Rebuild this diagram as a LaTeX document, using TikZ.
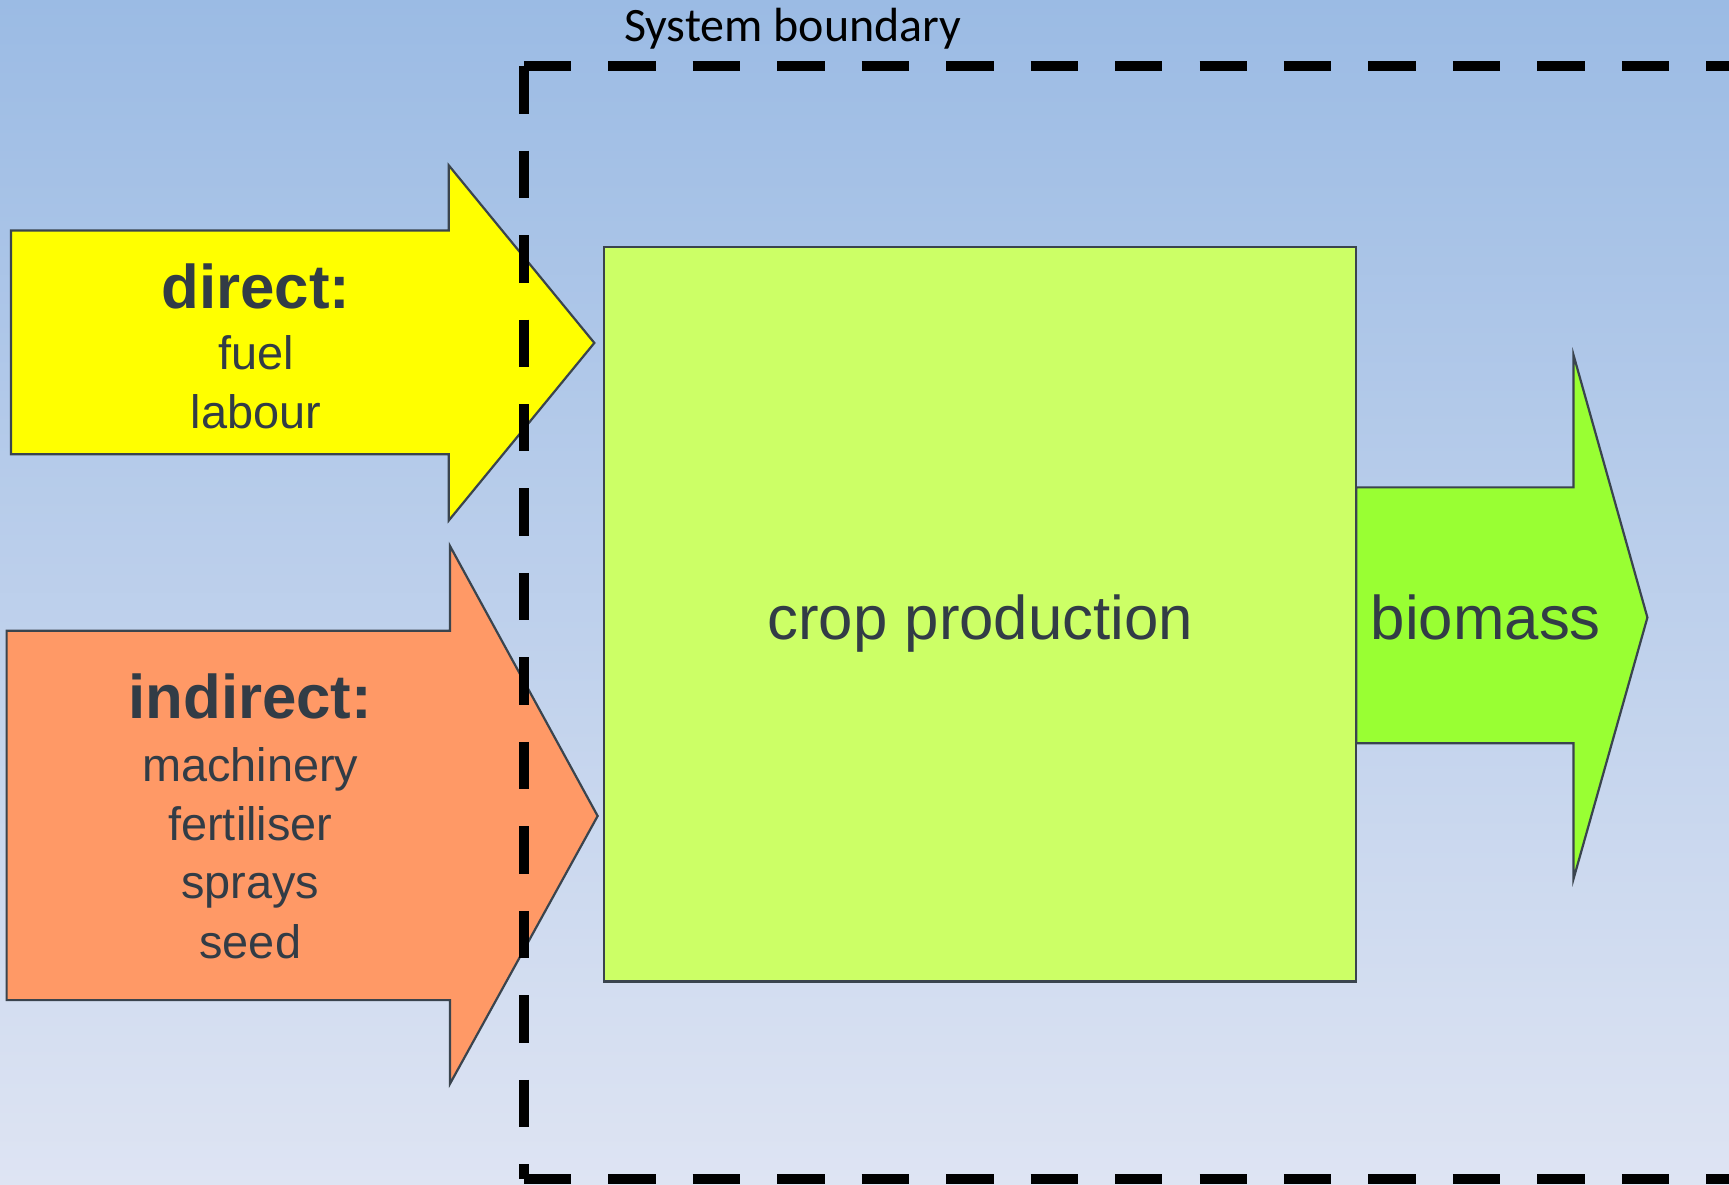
\documentclass[tikz,border=0pt]{standalone}
\usepackage{fontspec}
\setmainfont{Liberation Sans}
\newfontfamily\carlito{Carlito}
\definecolor{bgtop}{RGB}{155,187,228}
\definecolor{bgbot}{RGB}{222,228,243}
\definecolor{edgec}{RGB}{58,68,78}
\definecolor{txtc}{RGB}{50,60,70}
\definecolor{yelc}{RGB}{255,255,0}
\definecolor{orac}{RGB}{255,153,102}
\definecolor{limec}{RGB}{204,255,102}
\definecolor{grnc}{RGB}{153,255,51}
\begin{document}
\begin{tikzpicture}[x=1pt,y=-1pt,
  flowshape/.style={draw=edgec,line width=2pt,line join=miter},
  lbl/.style={text=txtc,inner sep=0pt,anchor=base,font=\fontsize{42.5}{50}\selectfont},
  headlbl/.style={text=txtc,inner sep=0pt,anchor=base,font=\fontsize{56}{60}\selectfont\bfseries},
  biglbl/.style={text=txtc,inner sep=0pt,anchor=base,font=\fontsize{56}{60}\selectfont},
  boundary/.style={line width=9pt,line cap=butt,dash pattern=on 43pt off 33.6pt}]

\useasboundingbox (0,0) rectangle (1568,1074);
\shade[top color=bgtop,bottom color=bgbot] (0,0) rectangle (1568,1074);

% direct arrow
\path[flowshape,fill=yelc] (10,209) -- (407,209) -- (407,150) -- (539,311) -- (407,472) -- (407,412) -- (10,412) -- cycle;
\node[headlbl] (direct) at (232,280) {direct:};
\node[lbl] (fuel) at (232,335) {fuel};
\node[lbl] (labour) at (232,389) {labour};

% indirect arrow
\path[flowshape,fill=orac] (6,572) -- (408,572) -- (408,495) -- (542,740) -- (408,983) -- (408,907) -- (6,907) -- cycle;
\node[headlbl] (indirect) at (227,652) {indirect:};
\node[lbl] (machinery) at (227,709) {machinery};
\node[lbl] (fertiliser) at (227,762) {fertiliser};
\node[lbl] (sprays) at (227,815) {sprays};
\node[lbl] (seed) at (227,869) {seed};

% crop production box
\node[draw=edgec,line width=2pt,fill=limec,minimum width=682pt,minimum height=666pt,inner sep=0pt] (crop) at (889,557) {};
\node[biglbl] (croplbl) at (889,580) {crop production};

% biomass arrow
\path[flowshape,fill=grnc] (1230,442) -- (1427,442) -- (1427,322) -- (1494,560) -- (1427,797) -- (1427,674) -- (1230,674) -- cycle;
\node[biglbl,anchor=base west] (biomass) at (1243,580) {biomass};

% system boundary
\coordinate (bTL) at (475,60);
\coordinate (bBL) at (475,1069);
\coordinate (bTR) at (1640,60);
\coordinate (bBR) at (1640,1069);
\draw[boundary] (bTL) -- (bTR);
\draw[boundary] (bTL) -- (bBL);
\draw[boundary] (bBL) -- (bBR);
\node[inner sep=0pt,anchor=base,font=\carlito\fontsize{43.5}{48}\selectfont] (sysb) at (719,38) {System boundary};
\end{tikzpicture}
\end{document}
